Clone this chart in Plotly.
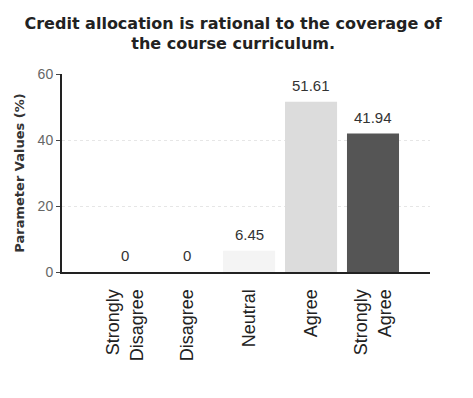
import plotly.graph_objects as go

categories = ["Strongly<br>Disagree", "Disagree", "Neutral", "Agree", "Strongly<br>Agree"]
values = [0, 0, 6.45, 51.61, 41.94]
labels = ["0", "0", "6.45", "51.61", "41.94"]
bar_colors = ["#d8d8d8", "#d8d8d8", "#f4f4f4", "#dcdcdc", "#555555"]

TEXT = "#333333"
TICK = "#666666"

x_pos = list(range(len(categories)))

fig = go.Figure(
    go.Bar(
        x=x_pos,
        y=values,
        width=0.84,
        marker=dict(color=bar_colors, line=dict(width=0)),
    )
)

for xi, v, lab in zip(x_pos, values, labels):
    fig.add_annotation(
        x=xi,
        y=v,
        text=lab,
        showarrow=False,
        yanchor="bottom",
        yshift=6,
        font=dict(family="Liberation Sans, Arial, sans-serif", size=15, color=TEXT),
    )

fig.update_layout(
    width=473,
    height=398,
    paper_bgcolor="white",
    plot_bgcolor="white",
    margin=dict(l=54, r=51, t=66, b=134),
    showlegend=False,
    title=dict(
        text="<b>Credit allocation is rational to the coverage of<br>the course curriculum.</b>",
        x=0.476,
        xanchor="center",
        y=0.948,
        yanchor="top",
        font=dict(family="DejaVu Sans, sans-serif", size=16, color="#222222"),
    ),
)

fig.update_xaxes(
    tickmode="array",
    tickvals=x_pos,
    ticktext=categories,
    tickangle=-90,
    range=[-1.02, 4.92],
    showline=True,
    linecolor="#222222",
    linewidth=2,
    showgrid=False,
    ticks="outside",
    ticklen=8,
    tickcolor="rgba(0,0,0,0)",
    tickfont=dict(family="Liberation Sans, Arial, sans-serif", size=18, color="#222222"),
)

fig.update_yaxes(
    range=[0, 60],
    tickvals=[0, 20, 40, 60],
    showline=True,
    linecolor="#222222",
    linewidth=2,
    ticks="outside",
    ticklen=4,
    tickcolor="#444444",
    showgrid=True,
    gridcolor="#e6e6e6",
    griddash="dot",
    zeroline=False,
    tickfont=dict(family="Liberation Sans, Arial, sans-serif", size=14, color=TICK),
    title=dict(
        text="<b>Parameter Values (%)</b>",
        font=dict(family="DejaVu Sans, sans-serif", size=13, color=TEXT),
        standoff=10,
    ),
)

fig.write_html("out.html")
